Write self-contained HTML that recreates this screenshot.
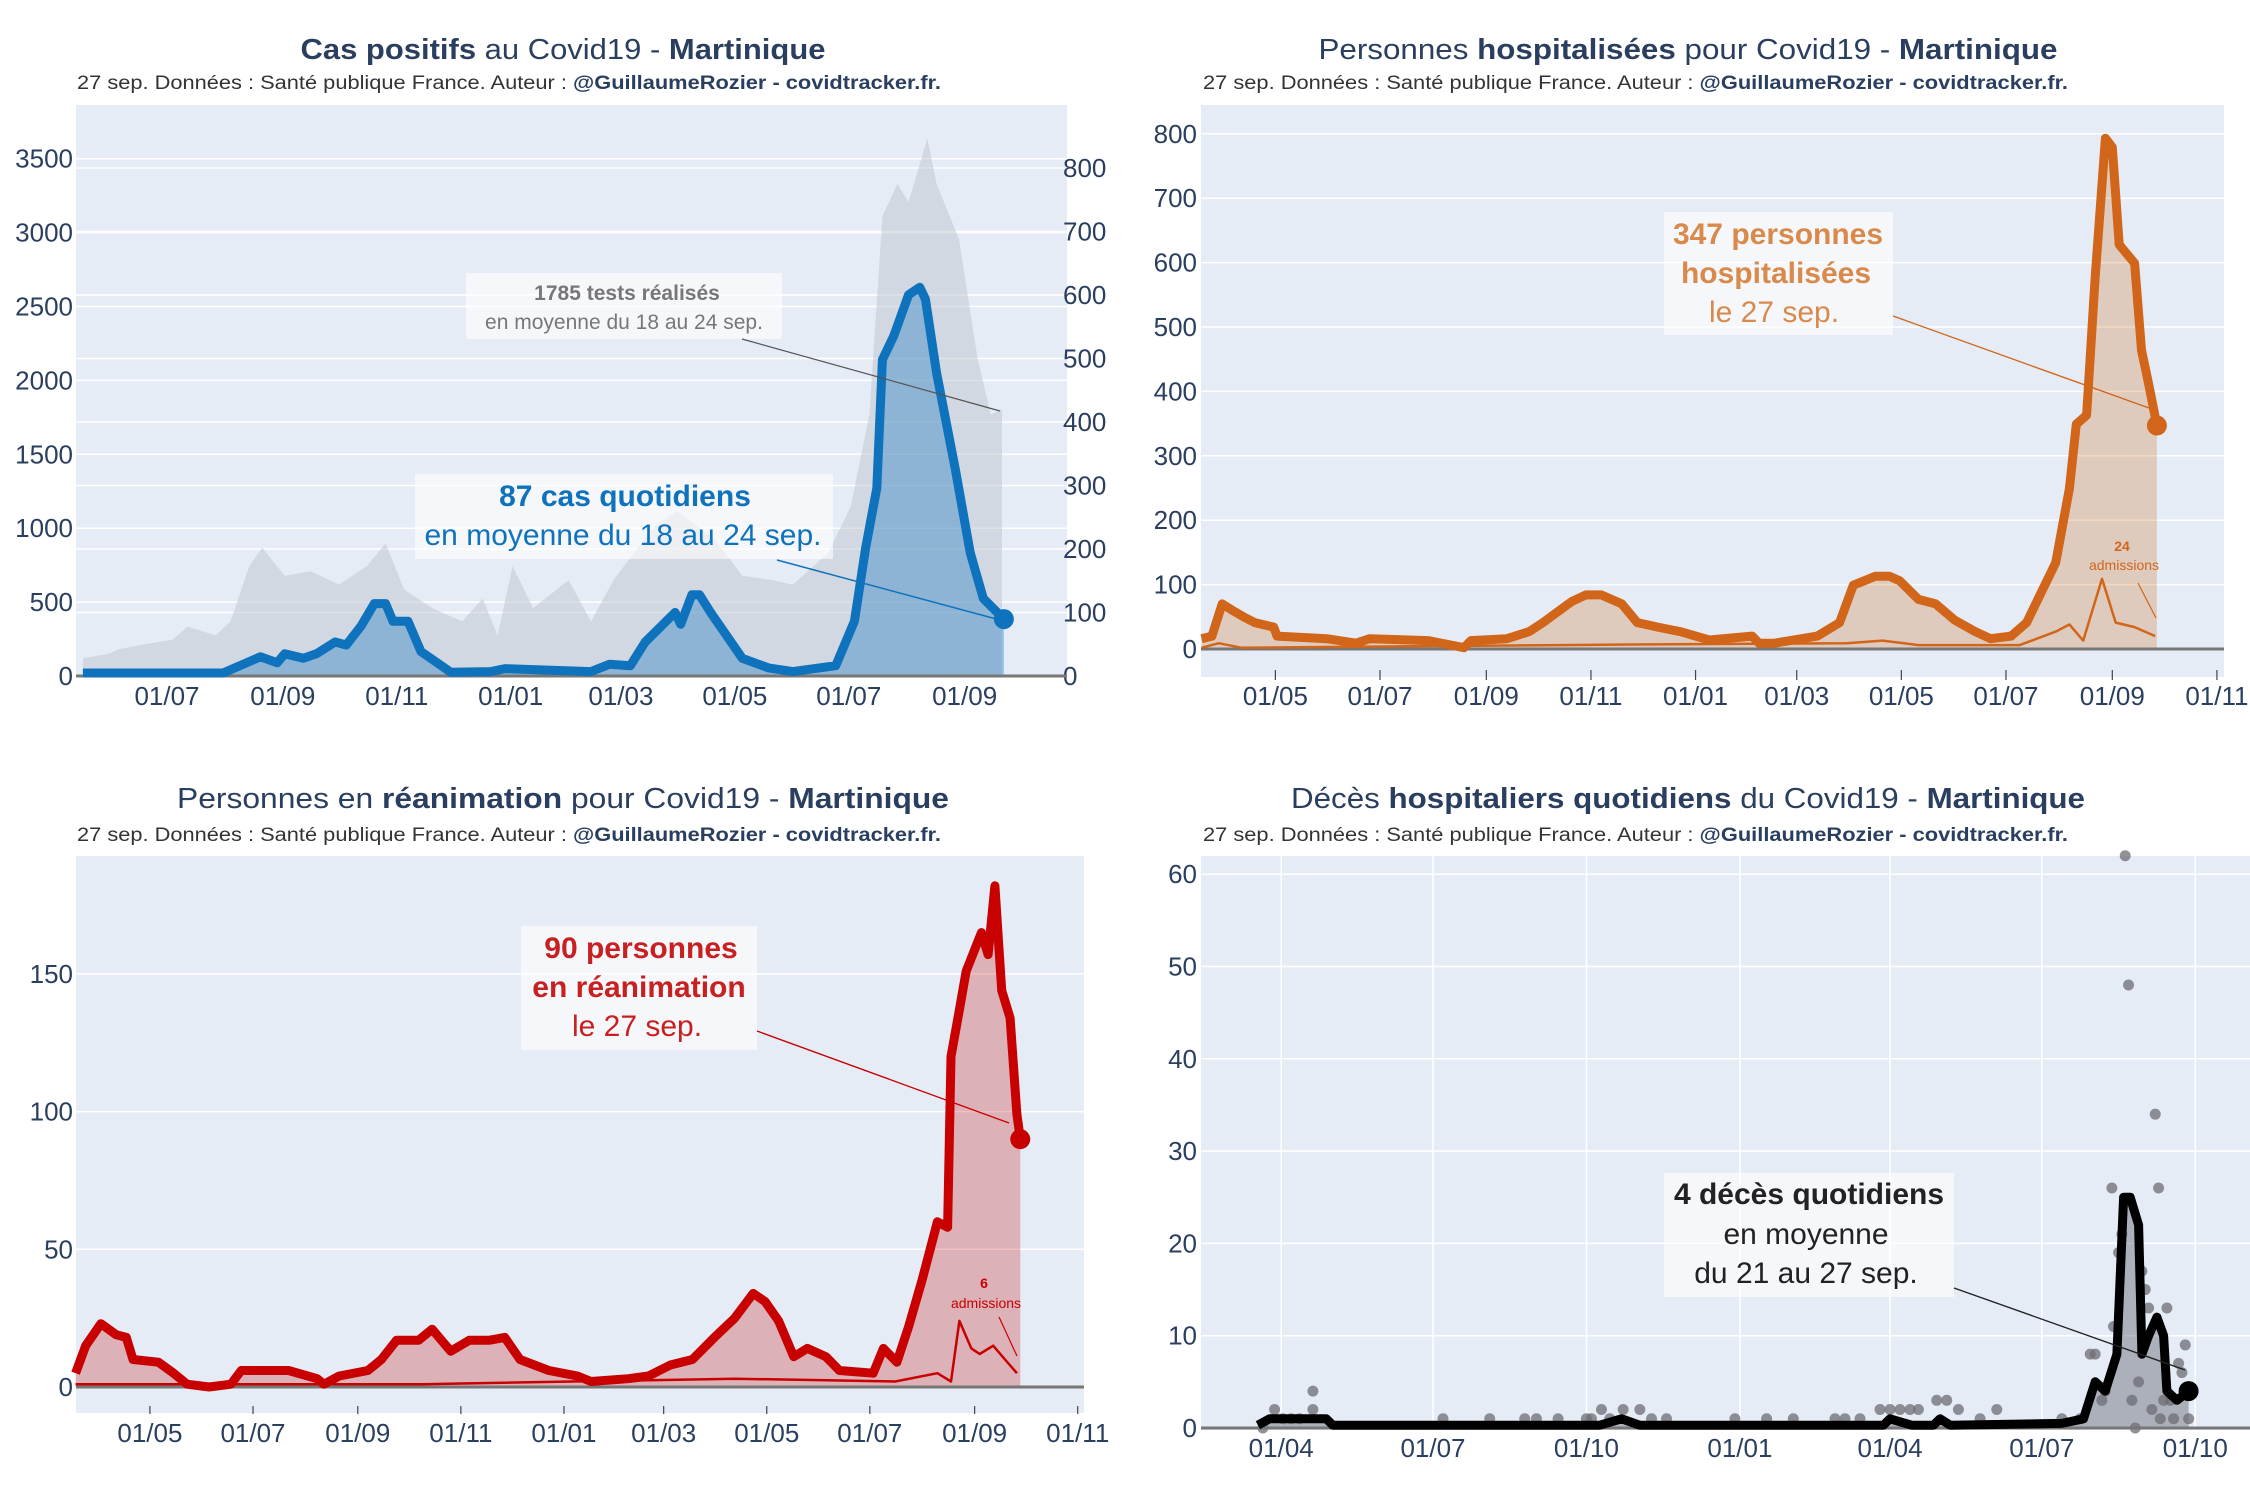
<!DOCTYPE html>
<html><head><meta charset="utf-8">
<style>
html,body{margin:0;padding:0;background:#fff;}
svg{display:block;font-family:"Liberation Sans",sans-serif;}
</style></head>
<body>
<svg id="root" width="2250" height="1500" viewBox="0 0 2250 1500" xmlns="http://www.w3.org/2000/svg">
<defs><clipPath id="clip4"><rect x="1201" y="850" width="1049" height="590"/></clipPath></defs>
</svg>
<script>
// ---------- Chart 1 : cas positifs ----------
const casDays = [-45,30,50,59,63,73,80,90,96,104,111,117,121,129,136,152,173,181,227,237,248,256,272,275,281,285,291,308,322,335,358,368,374,380,383,389,397,403,406,412,422,430,437,448];
const casVals = [20,20,130,90,150,120,150,230,210,340,490,490,370,370,165,25,30,50,30,80,70,230,430,350,550,550,430,120,55,30,70,370,865,1270,2140,2300,2580,2630,2550,2050,1400,835,525,385];
const testDays = [-45,-31,-26,-12,3,11,26,34,44,51,63,77,92,107,117,127,142,158,169,177,185,196,215,227,239,250,262,273,293,308,324,335,354,366,376,383,391,397,407,412,424,434,441,447];
const testVals = [28,35,42,50,57,78,64,86,173,202,158,165,144,173,209,136,107,86,122,64,173,107,151,86,151,194,238,260,216,158,151,144,194,267,412,724,775,746,847,775,688,499,412,420];
const casLeftTicks = [0,500,1000,1500,2000,2500,3000,3500];
const casRightTicks = [0,100,200,300,400,500,600,700,800];
const tickDays1 = [0,62,123,184,243,304,365,427];
const tickLabels1 = ["01/07","01/09","01/11","01/01","01/03","01/05","01/07","01/09"];

// ---------- Chart 2 : hospitalisations ----------
const hospDays = [-104,-98,-92,-86,-79,-73,-62,-60,-31,-14,-6,28,49,53,74,87,95,112,120,129,141,150,162,175,192,217,221,230,255,268,276,289,297,303,314,324,335,347,356,368,377,394,402,406,412,417,423,427,431,440,444,448,453];
const hospVals = [16,20,70,60,49,41,34,20,16,9,16,13,2,13,16,27,41,74,84,84,70,41,34,27,14,20,9,9,20,41,99,113,113,106,77,70,45,27,16,20,41,134,249,349,363,578,793,779,628,599,464,414,347];
const hospAdmDays = [-104,-94,-81,104,146,272,293,314,373,394,402,410,421,429,440,452];
const hospAdmVals = [2,9,2,6,7,9,13,6,6,27,38,13,109,41,34,20];
const tickDays2 = [-61,0,62,123,184,243,304,365,427,488];
const tickLabels2 = ["01/05","01/07","01/09","01/11","01/01","01/03","01/05","01/07","01/09","01/11"];
const hospTicks = [0,100,200,300,400,500,600,700,800];

// ---------- Chart 3 : réanimation ----------
const reaDays = [-105,-99,-90,-81,-75,-71,-56,-47,-39,-26,-13,-7,21,38,42,51,68,76,85,98,106,117,128,140,149,158,175,192,200,222,234,247,260,273,285,296,303,311,320,328,339,347,367,373,381,388,396,405,411,413,418,422,431,435,439,443,448,452,454];
const reaVals = [5,15,23,19,18,10,9,5,1,0,1,6,6,3,1,4,6,10,17,17,21,13,17,17,18,10,6,4,2,3,4,8,10,18,25,34,31,24,11,14,11,6,5,14,9,22,39,60,58,120,137,151,165,157,182,144,134,99,90];
const reaAdmDays = [-105,100,285,380,405,413,418,425,430,438,445,452];
const reaAdmVals = [1,1,3,2,5,2,24,14,12,15,10,5];
const tickDays3 = [-61,0,62,123,184,243,304,365,427,488];
const tickLabels3 = ["01/05","01/07","01/09","01/11","01/01","01/03","01/05","01/07","01/09","01/11"];
const reaTicks = [0,50,100,150];

// ---------- Chart 4 : décès ----------
const decDays = [-105,-98,-64,-60,100,113,124,270,274,287,300,304,310,377,390,397,403,410,414,418,423,425,429,434,438,440,446,453];
const decVals = [0.3,1,1,0.3,0.3,1,0.3,0.3,1,0.3,0.3,1,0.3,0.5,1,5,4,8,25,25,22,8,10,12,10,4,3,4];
const decPtDays = [-102,-95,-90,-85,-80,-72,-72,6,34,55,62,75,92,95,101,106,114,124,131,140,181,200,216,241,247,256,268,274,280,286,291,302,308,315,328,338,377,388,394,397,401,403,407,408,411,413,415,417,419,421,423,425,427,429,431,433,435,436,438,440,442,444,447,449,451,453];
const decPtVals = [0,2,1,1,1,2,4,1,1,1,1,1,1,1,2,1,2,2,1,1,1,1,1,1,1,1,2,2,2,2,2,3,3,2,1,2,1,1,8,8,3,4,26,11,19,21,62,48,3,0,5,17,15,13,2,34,26,1,3,13,3,1,7,6,9,1];
const decTicks = [0,10,20,30,40,50,60];
const tickDays4 = [-91,0,92,184,274,365,457];
const tickLabels4 = ["01/04","01/07","01/10","01/01","01/04","01/07","01/10"];

// ---------- axis functions ----------
const x1 = d => 167 + d*1.868;
const y1L = v => 676 - v*0.1478;
const y1R = v => 676 - v*0.635;
const x2 = d => 1380 + d*1.715;
const y2 = v => 649 - v*0.644;
const x3 = d => 253 + d*1.690;
const y3 = v => 1387 - v*2.754;
const x4 = d => 1433 + d*1.668;
const y4 = v => 1428 - v*9.23;

const NS = "http://www.w3.org/2000/svg";
const root = document.getElementById("root");
function mk(tag, attrs, parent){
  const e = document.createElementNS(NS, tag);
  for (const k in attrs) e.setAttribute(k, attrs[k]);
  (parent||root).appendChild(e);
  return e;
}
function linePath(days, vals, fx, fy){
  return days.map((d,i)=>(i?"L":"M")+fx(d).toFixed(1)+","+fy(vals[i]).toFixed(1)).join("");
}
function areaPath(days, vals, fx, fy){
  return linePath(days, vals, fx, fy)+"L"+fx(days[days.length-1]).toFixed(1)+","+fy(0)+"L"+fx(days[0]).toFixed(1)+","+fy(0)+"Z";
}
const TC = "#2a3f5f";

function titleBlock(g, cx, tY, parts, tW, sx, sY, sW){
  const t = mk("text",{x:cx,y:tY,"text-anchor":"middle","font-size":29,fill:TC,textLength:tW,lengthAdjust:"spacingAndGlyphs"},g);
  
  
  parts.forEach(p=>{const s=mk("tspan",{"font-weight":p[1]?"bold":"normal"},t);s.textContent=p[0];});
  const s = mk("text",{x:sx,y:sY,"font-size":19,fill:"#333",textLength:sW,lengthAdjust:"spacingAndGlyphs"},g);
  
  
  const a=mk("tspan",{},s);a.textContent="27 sep. Données : Santé publique France. Auteur : ";
  const b=mk("tspan",{"font-weight":"bold",fill:TC},s);b.textContent="@GuillaumeRozier - covidtracker.fr.";
}
function annBox(g, x, y, w, h){
  const r = mk("rect",{x:x,y:y,width:w,height:h,fill:"rgba(255,255,255,0.6)"},g);
  
  
}
function annText(g, x, y, txt, size, color, bold, name){
  const t = mk("text",{x:x,y:y,"text-anchor":"middle","font-size":size,fill:color,"font-weight":bold?"bold":"normal"},g);
  t.textContent = txt;
  
  
}
function arrowLine(g, xa, ya, xb, yb, color, w){
  const l = mk("line",{x1:xa,y1:ya,x2:xb,y2:yb,stroke:color,"stroke-width":w||1.4},g);
  
  
}
function yTicks(g, ticks, fy, xl, x0, x1e, anchor, name){
  ticks.forEach(v=>{
    const gl = mk("line",{x1:x0,x2:x1e,y1:fy(v),y2:fy(v),stroke:"#fff","stroke-width":1.5},g);
    
    
    const t = mk("text",{x:xl,y:fy(v)+9,"text-anchor":anchor,"font-size":26,fill:TC},g);
    t.textContent = v;
    
    
  });
}
function xTicks(g, days, labels, fx, yl, tickY0, tickY1){
  days.forEach((d,i)=>{
    if (tickY0!==undefined){
      const m = mk("line",{x1:fx(d),x2:fx(d),y1:tickY0,y2:tickY1,stroke:"#444","stroke-width":1.2},g);
      
      
    }
    const t = mk("text",{x:fx(d),y:yl,"text-anchor":"middle","font-size":26,fill:TC},g);
    t.textContent = labels[i];
    
    
  });
}
function plotBg(g,x,y,w,h){
  const r = mk("rect",{x:x,y:y,width:w,height:h,fill:"#e5ecf6"},g);
  
  
}
function series(g, d, fill, stroke, w, name){
  const p = mk("path",{d:d,fill:fill,stroke:stroke,"stroke-width":w,"stroke-linejoin":"round"},g);
  
  
  return p;
}
function dot(g, cx, cy, r, c, name){
  const e = mk("circle",{cx:cx,cy:cy,r:r,fill:c},g);
  
  
}

// ===== Chart 1 =====
const g1 = mk("g",{});


titleBlock(g1, 563, 59, [["Cas positifs",1],[" au Covid19 - ",0],["Martinique",1]], 525, 77, 89, 864);
plotBg(g1,76,105,991,572);
yTicks(g1, casRightTicks, y1R, 1063, 76, 1067, "start", "y-right-tick-label");
yTicks(g1, casLeftTicks, y1L, 73, 76, 1067, "end", "y-left-tick-label");
series(g1, areaPath(testDays,testVals,x1,y1R), "rgba(195,200,210,0.55)", "none", 0, "tests-area");
series(g1, areaPath(casDays,casVals,x1,y1L), "rgba(14,114,188,0.35)", "none", 0, "cases-area");
const z1 = mk("line",{x1:76,x2:1067,y1:676,y2:676,stroke:"#777","stroke-width":3},g1);


series(g1, linePath(casDays,casVals,x1,y1L), "none", "#0e72bc", 9, "cases-line");
dot(g1, x1(casDays[casDays.length-1]), y1L(casVals[casVals.length-1]), 10, "#0e72bc", "cases-last-point");
xTicks(g1, tickDays1, tickLabels1, x1, 705);
annBox(g1, 466, 273, 316, 66);
annText(g1, 627, 300, "1785 tests réalisés", 21, "#777", true, "tests-annotation-title");
annText(g1, 624, 329, "en moyenne du 18 au 24 sep.", 21, "#777", false, "tests-annotation-sub");
arrowLine(g1, 742, 339, 1000, 411, "#555", 1.2);
annBox(g1, 415, 474, 418, 85);
annText(g1, 625, 506, "87 cas quotidiens", 30, "#0e72bc", true, "cases-annotation-title");
annText(g1, 623, 545, "en moyenne du 18 au 24 sep.", 30, "#0e72bc", false, "cases-annotation-sub");
arrowLine(g1, 777, 560, 1000, 620, "#0e72bc", 1.5);

// ===== Chart 2 =====
const g2 = mk("g",{});


titleBlock(g2, 1688, 59, [["Personnes ",0],["hospitalisées",1],[" pour Covid19 - ",0],["Martinique",1]], 739, 1203, 89, 865);
plotBg(g2,1201,105,1023,572);
yTicks(g2, hospTicks, y2, 1197, 1201, 2224, "end", "y-tick-label");
series(g2, areaPath(hospDays,hospVals,x2,y2), "rgba(209,102,21,0.25)", "none", 0, "hosp-area");
const z2 = mk("line",{x1:1201,x2:2224,y1:649,y2:649,stroke:"#777","stroke-width":3},g2);


series(g2, linePath(hospAdmDays,hospAdmVals,x2,y2), "none", "#d1661a", 2.5, "admissions-line");
series(g2, linePath(hospDays,hospVals,x2,y2), "none", "#d1661a", 9, "hosp-line");
dot(g2, x2(hospDays[hospDays.length-1]), y2(hospVals[hospVals.length-1]), 10, "#d1661a", "hosp-last-point");
xTicks(g2, tickDays2, tickLabels2, x2, 705, 670, 680);
annBox(g2, 1664, 212, 229, 123);
annText(g2, 1778, 244, "347 personnes", 30, "#d98a4b", true, "hosp-annotation-title");
annText(g2, 1776, 283, "hospitalisées", 30, "#d98a4b", true, "hosp-annotation-title2");
annText(g2, 1774, 322, "le 27 sep.", 30, "#d98a4b", false, "hosp-annotation-sub");
arrowLine(g2, 1893, 316, 2149, 408, "#d1661a", 1.4);
annText(g2, 2122, 551, "24", 14, "#d1661a", true, "admissions-annotation-value");
annText(g2, 2124, 570, "admissions", 14, "#d1661a", false, "admissions-annotation-label");
arrowLine(g2, 2138, 583, 2156, 618, "#d1661a", 1.2);

// ===== Chart 3 =====
const g3 = mk("g",{});


titleBlock(g3, 563, 808, [["Personnes en ",0],["réanimation",1],[" pour Covid19 - ",0],["Martinique",1]], 772, 77, 841, 864);
plotBg(g3,76,856,1008,557);
yTicks(g3, reaTicks, y3, 73, 76, 1084, "end", "y-tick-label");
series(g3, areaPath(reaDays,reaVals,x3,y3), "rgba(200,0,0,0.25)", "none", 0, "rea-area");
const z3 = mk("line",{x1:76,x2:1084,y1:1387,y2:1387,stroke:"#777","stroke-width":3},g3);


series(g3, linePath(reaAdmDays,reaAdmVals,x3,y3), "none", "#c80000", 2.5, "admissions-line");
series(g3, linePath(reaDays,reaVals,x3,y3), "none", "#c80000", 9, "rea-line");
dot(g3, x3(reaDays[reaDays.length-1]), y3(reaVals[reaVals.length-1]), 10, "#c80000", "rea-last-point");
xTicks(g3, tickDays3, tickLabels3, x3, 1442, 1406, 1414);
annBox(g3, 521, 926, 236, 124);
annText(g3, 641, 958, "90 personnes", 30, "#c82020", true, "rea-annotation-title");
annText(g3, 639, 997, "en réanimation", 30, "#c82020", true, "rea-annotation-title2");
annText(g3, 637, 1036, "le 27 sep.", 30, "#c82020", false, "rea-annotation-sub");
arrowLine(g3, 757, 1031, 1009, 1123, "#c80000", 1.4);
annText(g3, 984, 1288, "6", 14, "#c80000", true, "admissions-annotation-value");
annText(g3, 986, 1308, "admissions", 14, "#c80000", false, "admissions-annotation-label");
arrowLine(g3, 999, 1317, 1017, 1356, "#c80000", 1.2);

// ===== Chart 4 =====
const g4 = mk("g",{});


titleBlock(g4, 1688, 808, [["Décès ",0],["hospitaliers quotidiens",1],[" du Covid19 - ",0],["Martinique",1]], 794, 1203, 841, 865);
plotBg(g4,1201,856,1049,574);
tickDays4.forEach(d=>{
  const v = mk("line",{x1:x4(d),x2:x4(d),y1:856,y2:1428,stroke:"#fff","stroke-width":1.5},g4);
  
  
});
yTicks(g4, decTicks, y4, 1197, 1201, 2250, "end", "y-tick-label");
series(g4, areaPath(decDays,decVals,x4,y4), "rgba(100,105,115,0.45)", "none", 0, "deaths-area");
const pg = mk("g",{"clip-path":"url(#clip4)"},g4);


decPtDays.forEach((d,i)=>{
  dot(pg, x4(d), y4(decPtVals[i]), 5.5, "rgba(110,110,115,0.75)", "daily-death-point");
});
const z4 = mk("line",{x1:1201,x2:2250,y1:1428,y2:1428,stroke:"#777","stroke-width":3},g4);


series(g4, linePath(decDays,decVals,x4,y4), "none", "#000", 9, "deaths-line");
dot(g4, x4(decDays[decDays.length-1]), y4(decVals[decVals.length-1]), 10, "#000", "deaths-last-point");
xTicks(g4, tickDays4, tickLabels4, x4, 1457);
annBox(g4, 1664, 1173, 290, 124);
annText(g4, 1809, 1204, "4 décès quotidiens", 30, "#222", true, "deaths-annotation-title");
annText(g4, 1806, 1244, "en moyenne", 30, "#222", false, "deaths-annotation-sub");
annText(g4, 1806, 1283, "du 21 au 27 sep.", 30, "#222", false, "deaths-annotation-sub2");
arrowLine(g4, 1954, 1288, 2185, 1370, "#222", 1.4);
</script>
</body></html>
